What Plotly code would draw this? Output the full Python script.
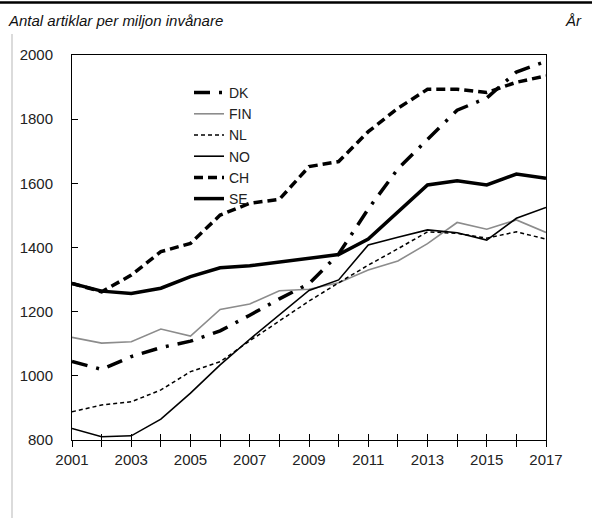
import plotly.graph_objects as go

years = list(range(2001, 2018))
dk = [1045, 1020, 1060, 1088, 1108, 1140, 1189, 1240, 1287, 1380, 1520, 1645, 1737, 1828, 1866, 1947, 1980]
fin = [1120, 1102, 1106, 1146, 1124, 1207, 1224, 1265, 1270, 1290, 1330, 1358, 1412, 1478, 1457, 1486, 1447]
nl = [888, 909, 919, 956, 1013, 1044, 1109, 1171, 1233, 1290, 1345, 1396, 1449, 1444, 1429, 1449, 1426]
no = [836, 810, 813, 865, 946, 1034, 1114, 1190, 1266, 1299, 1408, 1432, 1455, 1446, 1423, 1491, 1525]
ch = [1288, 1262, 1314, 1387, 1413, 1501, 1538, 1550, 1652, 1668, 1761, 1834, 1893, 1893, 1883, 1915, 1935]
se = [1288, 1264, 1257, 1273, 1309, 1337, 1343, 1355, 1368, 1378, 1426, 1510, 1595, 1608, 1595, 1629, 1616]

series = [
    ("DK", dk, dict(color="black", width=3.5, dash="16px,9px,3px,9px")),
    ("FIN", fin, dict(color="#8c8c8c", width=1.6)),
    ("NL", nl, dict(color="black", width=1.5, dash="4px,3px")),
    ("NO", no, dict(color="black", width=1.6)),
    ("CH", ch, dict(color="black", width=3.5, dash="9px,5px")),
    ("SE", se, dict(color="black", width=3.5)),
]

tick_years = years
tick_text = [str(y) if (y - 2001) % 2 == 0 else "" for y in years]
y_ticks = [800, 1000, 1200, 1400, 1600, 1800, 2000]

FONT = "Liberation Sans, Arial, sans-serif"
W, H = 592, 518
L, R, T, B = 72, 46, 55, 78
PW, PH = W - L - R, H - T - B


def px_x(px):
    return (px - L) / PW


def px_y(py):
    return (H - B - py) / PH


fig = go.Figure()
for name, vals, line in series:
    fig.add_trace(go.Scatter(x=years, y=vals, name=name, mode="lines", line=line))

fig.update_layout(
    width=W, height=H,
    margin=dict(l=L, r=R, t=T, b=B),
    paper_bgcolor="white", plot_bgcolor="white",
    font=dict(family=FONT, size=15, color="#222"),
    showlegend=True,
    legend=dict(x=px_x(189), y=px_y(77), xanchor="left", yanchor="top",
                bgcolor="rgba(0,0,0,0)", borderwidth=0,
                font=dict(family=FONT, size=14, color="#222"),
                tracegroupgap=0, itemwidth=30),
    xaxis=dict(range=[2001, 2017], tickvals=tick_years, ticktext=tick_text,
               ticks="outside", ticklen=6, tickcolor="black", tickwidth=1,
               showline=True, linecolor="black", linewidth=1, mirror=True,
               showgrid=False, zeroline=False,
               tickfont=dict(family=FONT, size=15, color="#222")),
    xaxis2=dict(range=[2001, 2017], tickvals=tick_years, overlaying="x",
                anchor="y", side="bottom", ticks="inside", ticklen=6,
                tickcolor="black", tickwidth=1, showticklabels=False,
                showline=False, showgrid=False, zeroline=False),
    yaxis=dict(range=[800, 2000], tickvals=y_ticks,
               ticks="inside", ticklen=6, tickcolor="black", tickwidth=1,
               showline=True, linecolor="black", linewidth=1, mirror=True,
               showgrid=False, zeroline=False, ticklabelstandoff=15,
               tickfont=dict(family=FONT, size=15, color="#222")),
    annotations=[
        dict(text="<i>Antal artiklar per miljon invånare</i>", xref="paper", yref="paper",
             x=px_x(6), y=px_y(20), xanchor="left", yanchor="middle", showarrow=False,
             font=dict(family=FONT, size=15, color="#111")),
        dict(text="<i>År</i>", xref="paper", yref="paper",
             x=px_x(573), y=px_y(20), xanchor="center", yanchor="middle", showarrow=False,
             font=dict(family=FONT, size=15, color="#111")),
    ],
    shapes=[
        dict(type="line", xref="paper", yref="paper", x0=px_x(0), x1=px_x(W),
             y0=px_y(2.5), y1=px_y(2.5), line=dict(color="black", width=2.5)),
        dict(type="line", xref="paper", yref="paper", x0=px_x(12), x1=px_x(12),
             y0=px_y(H), y1=px_y(34), line=dict(color="#cfcfcf", width=1.5)),
    ],
)
# invisible trace to activate the overlaid tick axis
fig.add_trace(go.Scatter(x=[2001], y=[800], xaxis="x2", yaxis="y", mode="none",
                         showlegend=False, hoverinfo="skip"))

fig.write_html("out.html", config={"displayModeBar": False},
               post_script="document.body.style.margin='0';document.body.style.overflow='hidden';")
